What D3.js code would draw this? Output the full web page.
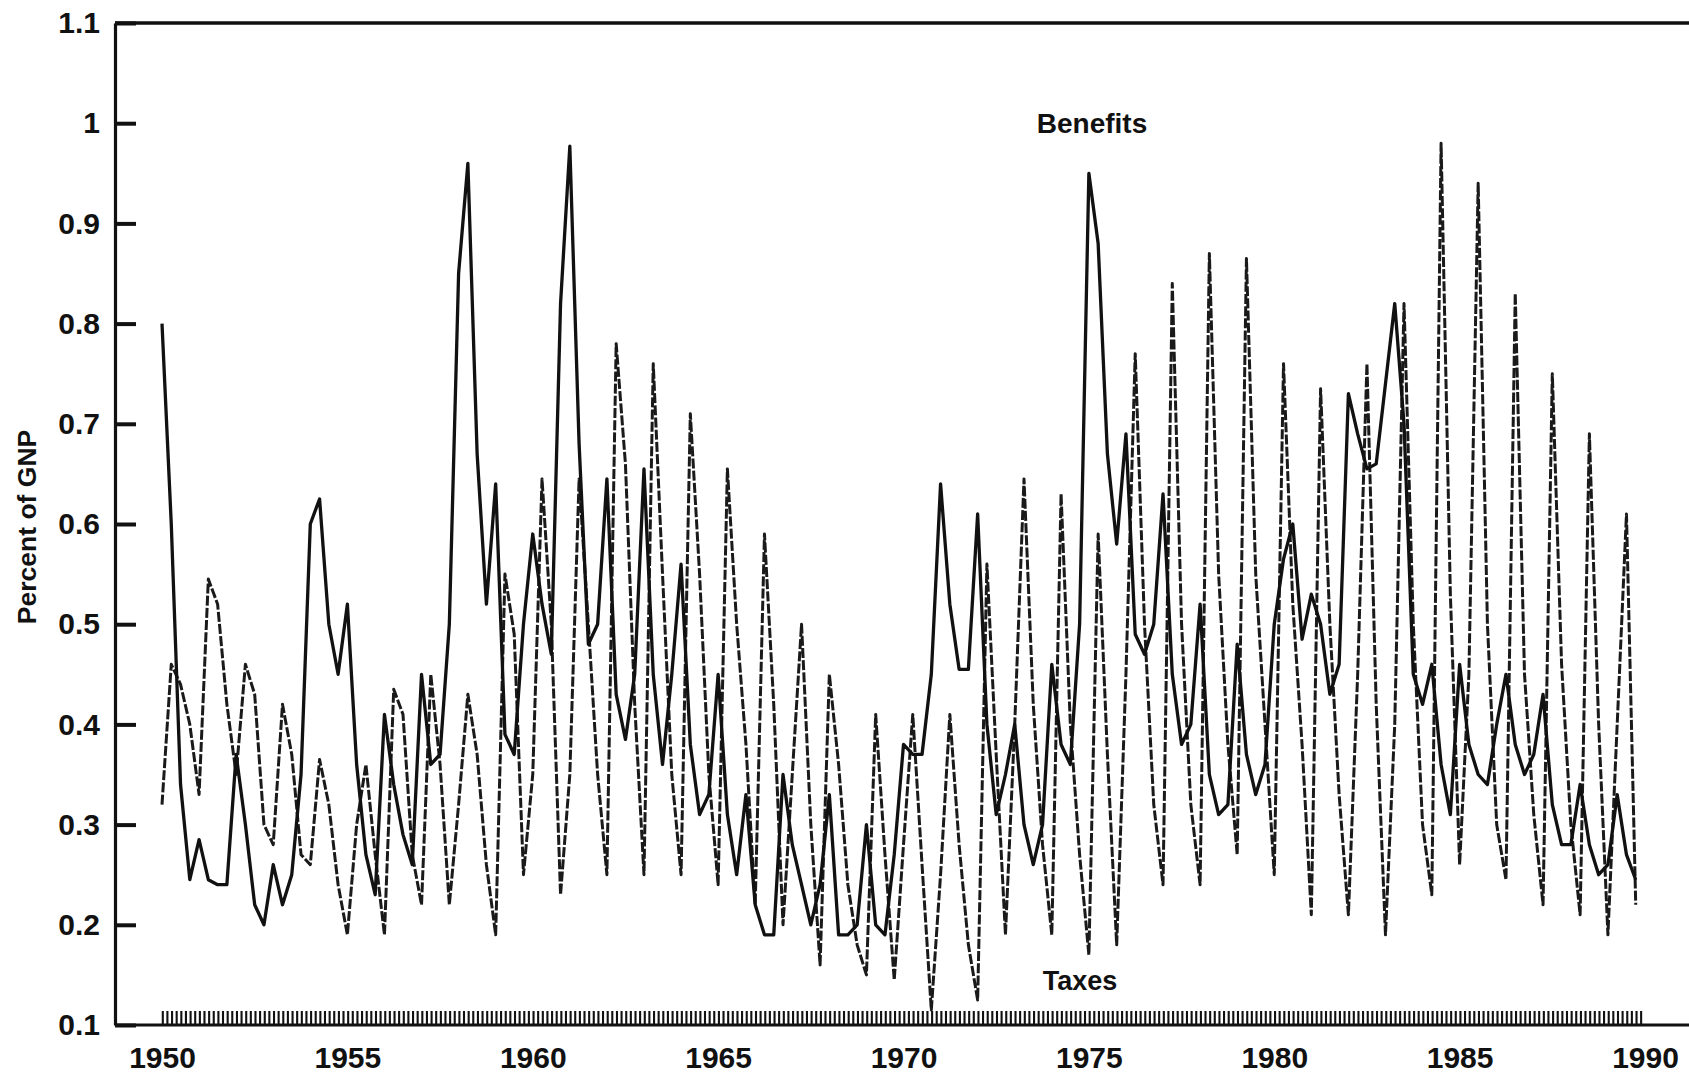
<!DOCTYPE html>
<html>
<head>
<meta charset="utf-8">
<script src="https://cdn.jsdelivr.net/npm/d3@7"></script>
<style>
  html, body { margin: 0; padding: 0; background: #fff; }
  svg { display: block; }
  text { font-family: "Liberation Sans", Arial, Helvetica, sans-serif; font-weight: bold; fill: #111; }
</style>
</head>
<body>
<svg id="chart" width="1689" height="1075"></svg>
<script>
// Unemployment insurance benefits and taxes, quarterly, percent of GNP
const startYear = 1950;
const periodsPerYear = 4;

const yearTicks = [1950, 1955, 1960, 1965, 1970, 1975, 1980, 1985, 1990];
const valueTicks = [0.1, 0.2, 0.3, 0.4, 0.5, 0.6, 0.7, 0.8, 0.9, 1, 1.1];

const seriesLabels = ["Benefits", "Taxes"];

// one row per year, Q1..Q4
const benefits = [
  0.80, 0.60, 0.34, 0.245,   // 1950
  0.285, 0.245, 0.24, 0.24,  // 1951
  0.37, 0.30, 0.22, 0.20,    // 1952
  0.26, 0.22, 0.25, 0.35,    // 1953
  0.60, 0.625, 0.50, 0.45,   // 1954
  0.52, 0.36, 0.27, 0.23,    // 1955
  0.41, 0.34, 0.29, 0.26,    // 1956
  0.45, 0.36, 0.37, 0.50,    // 1957
  0.85, 0.96, 0.67, 0.52,    // 1958
  0.64, 0.39, 0.37, 0.50,    // 1959
  0.59, 0.52, 0.47, 0.82,    // 1960
  0.977, 0.68, 0.48, 0.50,   // 1961
  0.645, 0.43, 0.385, 0.45,  // 1962
  0.655, 0.45, 0.36, 0.45,   // 1963
  0.56, 0.38, 0.31, 0.33,    // 1964
  0.45, 0.31, 0.25, 0.33,    // 1965
  0.22, 0.19, 0.19, 0.35,    // 1966
  0.28, 0.24, 0.20, 0.24,    // 1967
  0.33, 0.19, 0.19, 0.20,    // 1968
  0.30, 0.20, 0.19, 0.27,    // 1969
  0.38, 0.37, 0.37, 0.45,    // 1970
  0.64, 0.52, 0.455, 0.455,  // 1971
  0.61, 0.40, 0.31, 0.35,    // 1972
  0.40, 0.30, 0.26, 0.30,    // 1973
  0.46, 0.38, 0.36, 0.50,    // 1974
  0.95, 0.88, 0.67, 0.58,    // 1975
  0.69, 0.49, 0.47, 0.50,    // 1976
  0.63, 0.45, 0.38, 0.40,    // 1977
  0.52, 0.35, 0.31, 0.32,    // 1978
  0.48, 0.37, 0.33, 0.36,    // 1979
  0.50, 0.565, 0.60, 0.485,  // 1980
  0.53, 0.50, 0.43, 0.46,    // 1981
  0.73, 0.69, 0.655, 0.66,   // 1982
  0.74, 0.82, 0.70, 0.45,    // 1983
  0.42, 0.46, 0.36, 0.31,    // 1984
  0.46, 0.38, 0.35, 0.34,    // 1985
  0.40, 0.45, 0.38, 0.35,    // 1986
  0.37, 0.43, 0.32, 0.28,    // 1987
  0.28, 0.34, 0.28, 0.25,    // 1988
  0.26, 0.33, 0.27, 0.245    // 1989
];

const taxes = [
  0.32, 0.46, 0.44, 0.40,    // 1950
  0.33, 0.545, 0.52, 0.42,   // 1951
  0.35, 0.46, 0.43, 0.30,    // 1952
  0.28, 0.42, 0.37, 0.27,    // 1953
  0.26, 0.365, 0.32, 0.24,   // 1954
  0.19, 0.30, 0.36, 0.27,    // 1955
  0.19, 0.435, 0.41, 0.27,   // 1956
  0.22, 0.45, 0.36, 0.22,    // 1957
  0.32, 0.43, 0.37, 0.26,    // 1958
  0.19, 0.55, 0.49, 0.25,    // 1959
  0.35, 0.645, 0.50, 0.23,   // 1960
  0.35, 0.645, 0.50, 0.35,   // 1961
  0.25, 0.78, 0.66, 0.42,    // 1962
  0.25, 0.76, 0.55, 0.35,    // 1963
  0.25, 0.71, 0.55, 0.35,    // 1964
  0.24, 0.655, 0.50, 0.38,   // 1965
  0.22, 0.59, 0.42, 0.20,    // 1966
  0.35, 0.50, 0.30, 0.16,    // 1967
  0.45, 0.36, 0.24, 0.18,    // 1968
  0.15, 0.41, 0.27, 0.145,   // 1969
  0.28, 0.41, 0.26, 0.115,   // 1970
  0.25, 0.41, 0.28, 0.18,    // 1971
  0.125, 0.56, 0.37, 0.19,   // 1972
  0.40, 0.645, 0.42, 0.28,   // 1973
  0.19, 0.63, 0.40, 0.27,    // 1974
  0.17, 0.59, 0.37, 0.18,    // 1975
  0.45, 0.77, 0.50, 0.32,    // 1976
  0.24, 0.84, 0.50, 0.32,    // 1977
  0.24, 0.87, 0.55, 0.38,    // 1978
  0.27, 0.865, 0.55, 0.40,   // 1979
  0.25, 0.76, 0.52, 0.38,    // 1980
  0.21, 0.735, 0.50, 0.33,   // 1981
  0.21, 0.45, 0.76, 0.42,    // 1982
  0.19, 0.40, 0.82, 0.50,    // 1983
  0.30, 0.23, 0.98, 0.53,    // 1984
  0.26, 0.45, 0.94, 0.50,    // 1985
  0.30, 0.245, 0.83, 0.45,   // 1986
  0.31, 0.22, 0.75, 0.46,    // 1987
  0.30, 0.21, 0.69, 0.40,    // 1988
  0.19, 0.40, 0.61, 0.22     // 1989
];

const W = 1689, H = 1075;
const frame = { left: 115, top: 23, bottom: 1025, right: W };
const fontStack = "'Liberation Sans', Arial, Helvetica, sans-serif";

const svg = d3.select("#chart");
svg.append("rect").attr("width", W).attr("height", H).attr("fill", "#fff");

const x = d3.scaleLinear().domain([1950, 1990]).range([162, 1645]);
const y = d3.scaleLinear().domain([0.1, 1.1]).range([frame.bottom, frame.top]);

const timeOf = i => startYear + i / periodsPerYear;

// frame: top rule and baseline running to the page edge
svg.append("line")
  .attr("x1", frame.left).attr("x2", frame.right)
  .attr("y1", frame.top).attr("y2", frame.top)
  .attr("stroke", "#111").attr("stroke-width", 3.5);
svg.append("line")
  .attr("x1", frame.left).attr("x2", frame.right)
  .attr("y1", frame.bottom).attr("y2", frame.bottom)
  .attr("stroke", "#111").attr("stroke-width", 3.2);

// value axis with inward ticks
const yAxis = d3.axisLeft(y)
  .tickValues(valueTicks)
  .tickSizeInner(-21)
  .tickSizeOuter(0)
  .tickPadding(15)
  .tickFormat(d3.format("~g"));
const gy = svg.append("g")
  .attr("transform", `translate(${frame.left},0)`)
  .call(yAxis);
gy.select(".domain").attr("stroke", "#111").attr("stroke-width", 3.2);
gy.selectAll(".tick line").attr("stroke", "#111").attr("stroke-width", 4);
gy.selectAll(".tick text")
  .attr("font-size", 30)
  .attr("font-family", null)
  .style("font-family", fontStack)
  .style("font-weight", "bold")
  .attr("fill", "#111");

// year labels
const xAxis = d3.axisBottom(x)
  .tickValues(yearTicks)
  .tickSize(0)
  .tickPadding(22)
  .tickFormat(d3.format("d"));
const gx = svg.append("g")
  .attr("transform", `translate(0,${frame.bottom})`)
  .call(xAxis);
gx.select(".domain").remove();
gx.selectAll(".tick text")
  .attr("font-size", 30)
  .attr("font-family", null)
  .style("font-family", fontStack)
  .style("font-weight", "bold")
  .attr("fill", "#111");

// quarterly comb along the baseline: one small "u" per quarter
const quarters = d3.range(benefits.length).map(timeOf);
svg.append("g")
  .selectAll("path")
  .data(quarters)
  .join("path")
  .attr("d", t => {
    const q = x(t);
    return `M${q + 0.8},${frame.bottom - 14}V${frame.bottom}M${q + 5.4},${frame.bottom - 14}V${frame.bottom}`;
  })
  .attr("fill", "none")
  .attr("stroke", "#111")
  .attr("stroke-width", 2.1);

// series
const line = d3.line()
  .x((d, i) => x(timeOf(i)))
  .y(d => y(d));

svg.append("path")
  .datum(taxes)
  .attr("d", line)
  .attr("fill", "none")
  .attr("stroke", "#1a1a1a")
  .attr("stroke-width", 3)
  .attr("stroke-linejoin", "round")
  .attr("stroke-dasharray", "10,2.2");

svg.append("path")
  .datum(benefits)
  .attr("d", line)
  .attr("fill", "none")
  .attr("stroke", "#111")
  .attr("stroke-width", 3.3)
  .attr("stroke-linejoin", "round");

// series names
svg.append("text")
  .attr("x", 1092).attr("y", 133)
  .attr("text-anchor", "middle")
  .attr("font-size", 28)
  .text(seriesLabels[0]);
svg.append("text")
  .attr("x", 1080).attr("y", 990)
  .attr("text-anchor", "middle")
  .attr("font-size", 27)
  .text(seriesLabels[1]);

// axis title
svg.append("text")
  .attr("transform", "translate(27,527) rotate(-90)")
  .attr("text-anchor", "middle")
  .attr("dominant-baseline", "central")
  .attr("font-size", 26.5)
  .text("Percent of GNP");
</script>
</body>
</html>
